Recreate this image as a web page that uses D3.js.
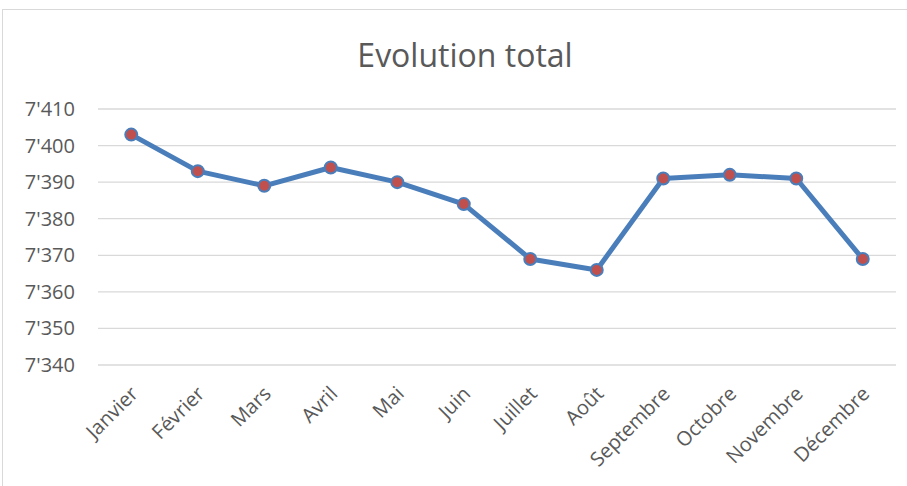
<!DOCTYPE html>
<html>
<head>
<meta charset="utf-8">
<script src="https://cdn.jsdelivr.net/npm/d3@7"></script>
<style>
  body { margin: 0; background: #fff; }
  svg { display: block; }
</style>
</head>
<body>
<svg id="chart" width="907" height="486"></svg>
<script>
// data
let months = ['Janvier', 'Février', 'Mars', 'Avril', 'Mai', 'Juin', 'Juillet', 'Août', 'Septembre', 'Octobre', 'Novembre', 'Décembre']
let totals = [7403, 7393, 7389, 7394, 7390, 7384, 7369, 7366, 7391, 7392, 7391, 7369]
let yTicks = [7340, 7350, 7360, 7370, 7380, 7390, 7400, 7410]

let w = 907
let h = 486
let plotLeft = 98, plotRight = 896, plotTop = 109, plotBottom = 365
let font = '"Open Sans", sans-serif'

let svg = d3.select('#chart')

// outer frame
svg.append('rect')
  .attr('x', 2.5).attr('y', 9.5)
  .attr('width', w + 10).attr('height', h + 10)
  .attr('fill', 'none')
  .attr('stroke', '#d9d9d9')

svg.append('text')
  .text('Evolution total')
  .attr('x', 465).attr('y', 67)
  .attr('text-anchor', 'middle')
  .style('font-family', font)
  .style('font-size', '32px')
  .style('fill', '#595959')

let x = d3.scaleBand().domain(months).range([plotLeft, plotRight])
let y = d3.scaleLinear().domain([7340, 7410]).range([plotBottom, plotTop])

// gridlines
svg.append('g').selectAll('line')
  .data(yTicks)
  .enter()
  .append('line')
  .attr('x1', plotLeft).attr('x2', plotRight)
  .attr('y1', d => y(d)).attr('y2', d => y(d))
  .attr('stroke', '#d9d9d9')
  .attr('stroke-width', 1.3)

// y labels
let fmt = d => String(d).replace(/(\d)(\d{3})$/, "$1'$2")
svg.append('g').selectAll('text')
  .data(yTicks)
  .enter()
  .append('text')
  .text(fmt)
  .attr('x', 75)
  .attr('y', d => y(d) + 7)
  .attr('text-anchor', 'end')
  .style('font-family', font)
  .style('font-size', '20px')
  .style('fill', '#595959')

// x labels, rotated
svg.append('g').selectAll('text')
  .data(months)
  .enter()
  .append('text')
  .text(d => d)
  .attr('transform', d => {
    let cx = x(d) + x.bandwidth() / 2 + 8
    return 'translate(' + cx + ',395) rotate(-45)'
  })
  .attr('text-anchor', 'end')
  .style('font-family', font)
  .style('font-size', '20px')
  .style('fill', '#595959')

let cx = (d, i) => x(months[i]) + x.bandwidth() / 2

let line = d3.line()
  .x(cx)
  .y(d => y(d))

svg.append('path')
  .datum(totals)
  .attr('d', line)
  .attr('fill', 'none')
  .attr('stroke', '#4a7ebb')
  .attr('stroke-width', 5)
  .attr('stroke-linejoin', 'round')

svg.append('g').selectAll('circle')
  .data(totals)
  .enter()
  .append('circle')
  .attr('cx', cx)
  .attr('cy', d => y(d))
  .attr('r', 6)
  .attr('fill', '#c0504d')
  .attr('stroke', '#4a7ebb')
  .attr('stroke-width', 2)
</script>
</body>
</html>
